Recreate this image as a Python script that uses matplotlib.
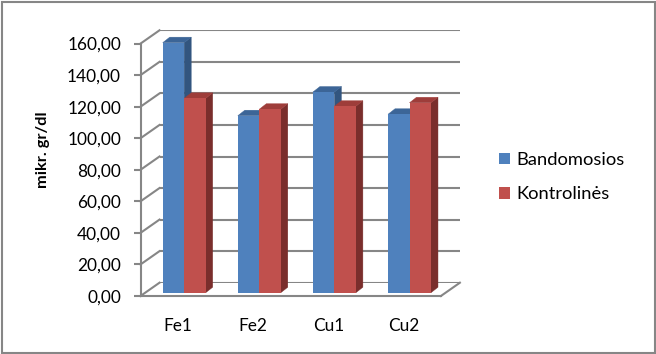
import matplotlib
matplotlib.use("Agg")
import matplotlib.pyplot as plt
from matplotlib.patches import Polygon, Patch, Rectangle
from matplotlib.ticker import FixedLocator, FuncFormatter

# ---- data ----
categories = ["Fe1", "Fe2", "Cu1", "Cu2"]
bandomosios = [158.5, 112.2, 127.2, 113.1]
kontrolines = [123.2, 116.3, 118.2, 120.4]
series_names = ["Bandomosios", "Kontrolinės"]
y_ticks = [0, 20, 40, 60, 80, 100, 120, 140, 160]
y_label = "mikr. gr/dl"

plt.rcParams['font.family'] = ['Lato', 'DejaVu Sans']

W, H = 656, 354
fig = plt.figure(figsize=(W / 100, H / 100), dpi=100)

# plane geometry in pixels (from top-left)
bar_left, bar_right = 146.65, 447.05
bar_y0, bar_y160 = 292.7, 40.3
front_off = (-6.15, 3.3)   # px (right, down)
back_off = (12.85, -10.0)
bar_depth = (7.0, -5.5)

aw = bar_right - bar_left
ah = bar_y0 - bar_y160
ymax = 160.0
xlim = (-0.5, len(categories) - 0.5)


def rect(off):
    l = bar_left + off[0]
    b = H - (bar_y0 + off[1])
    return [l / W, b / H, aw / W, ah / H]


px_x = aw / (xlim[1] - xlim[0])
px_y = ah / ymax


def d(off):
    return off[0] / px_x, -off[1] / px_y


grid_c = "#868686"

# back wall with gridlines
ax_back = fig.add_axes(rect(back_off))
ax_back.set_xlim(*xlim)
ax_back.set_ylim(0, ymax)
ax_back.axis("off")
for yv in y_ticks:
    ax_back.plot(xlim, [yv, yv], color=grid_c, lw=1.5, solid_capstyle="butt")

# bar plane
ax = fig.add_axes(rect((0, 0)))
ax.set_xlim(*xlim)
ax.set_ylim(0, ymax)
ax.axis("off")
ax.patch.set_alpha(0)

fx, fy = d(front_off)
bx, by = d(back_off)
# side wall diagonals
for yv in y_ticks:
    ax.plot([xlim[0] + fx, xlim[0] + bx], [yv + fy, yv + by], color=grid_c,
            lw=1.5, clip_on=False, zorder=1)
# floor right diagonal
ax.plot([xlim[1] + fx, xlim[1] + bx], [fy, by], color=grid_c, lw=1.5,
        clip_on=False, zorder=1)

ddx, ddy = d(bar_depth)
bw = 0.286
colors = [("#4F81BD", "#3C6597", "#32557F"), ("#C0504D", "#9E3D3A", "#7A2E2C")]
xs = list(range(len(categories)))
for si, vals in enumerate([bandomosios, kontrolines]):
    front_c, top_c, side_c = colors[si]
    offs = (si - 0.5) * bw
    for i, v in enumerate(vals):
        x0 = xs[i] + offs - bw / 2
        x1 = x0 + bw
        z = 3 + si * 3
        ax.add_patch(Polygon([(x1, 0), (x1, v), (x1 + ddx, v + ddy), (x1 + ddx, ddy)],
                             closed=True, facecolor=side_c, edgecolor=side_c, lw=0.3,
                             zorder=z, clip_on=False))
        ax.add_patch(Polygon([(x0, v), (x1, v), (x1 + ddx, v + ddy), (x0 + ddx, v + ddy)],
                             closed=True, facecolor=top_c, edgecolor=top_c, lw=0.3,
                             zorder=z, clip_on=False))
    ax.bar([x + offs for x in xs], vals, width=bw, color=front_c, zorder=3 + si * 3 + 1,
           clip_on=False, linewidth=0)

# front plane axes (real ticks)
ax_f = fig.add_axes(rect(front_off))
ax_f.set_xlim(*xlim)
ax_f.set_ylim(0, ymax)
ax_f.patch.set_alpha(0)
for s in ["top", "right"]:
    ax_f.spines[s].set_visible(False)
for s in ["left", "bottom"]:
    ax_f.spines[s].set_color(grid_c)
    ax_f.spines[s].set_linewidth(1.5)
ax_f.yaxis.set_major_locator(FixedLocator(y_ticks))
ax_f.yaxis.set_major_formatter(FuncFormatter(lambda v, p: f"{v:.2f}".replace(".", ",")))
ax_f.tick_params(axis="y", length=5, width=1.5, color=grid_c, pad=9,
                 labelsize=12.4, labelcolor="black")
ax_f.set_xticks(xs)
ax_f.set_xticklabels(categories)
ax_f.tick_params(axis="x", length=0, pad=16, labelsize=12.4, labelcolor="black")
ax_f.set_ylabel(y_label, fontsize=11.8, fontweight="bold")
ax_f.yaxis.label.set_va("center")
ax_f.yaxis.set_label_coords((43.5 - (bar_left + front_off[0])) / aw,
                            ((bar_y0 + front_off[1]) - 150) / ah)

handles = [Patch(facecolor=colors[0][0]), Patch(facecolor=colors[1][0])]
fig.legend(handles, series_names, loc="center left",
           bbox_to_anchor=(499.0 / W, (H - 177.1) / H), frameon=False,
           fontsize=13.2, handlelength=0.62, handleheight=0.62,
           handletextpad=0.33, labelspacing=1.0, borderpad=0, borderaxespad=0)

fig.patches.append(Rectangle((1.5 / W, 1.5 / H), (W - 3) / W, (H - 3) / H,
                             transform=fig.transFigure, fill=False,
                             edgecolor=grid_c, lw=1.5))

fig.savefig("out.png", dpi=100)
